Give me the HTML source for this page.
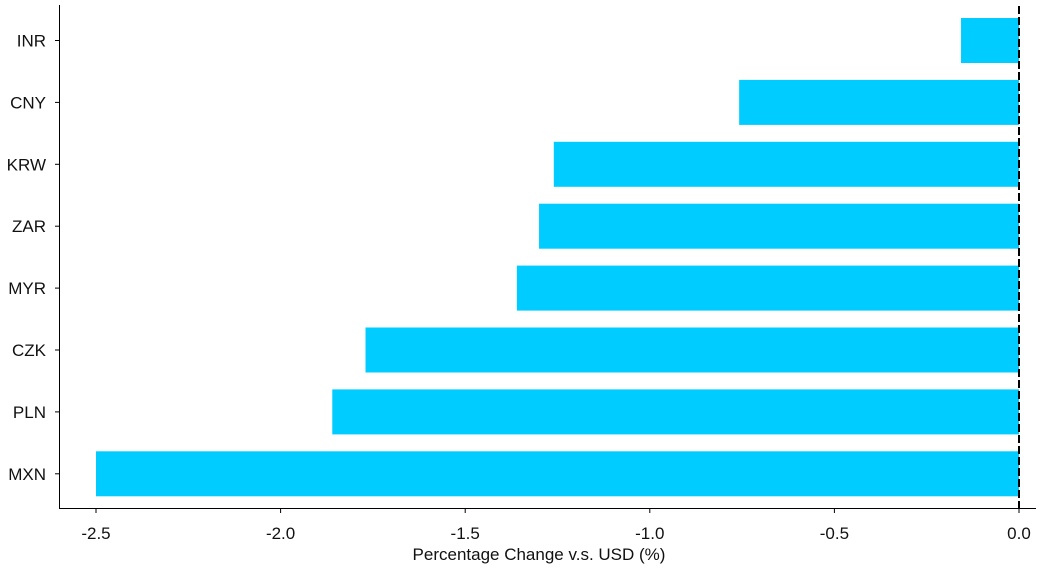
<!DOCTYPE html>
<html><head><meta charset="utf-8"><style>
body{margin:0;background:#fff;}
svg text{font-family:"Liberation Sans",sans-serif;fill:#111;}
</style></head><body>
<svg id="chart" width="1040" height="571" xmlns="http://www.w3.org/2000/svg"></svg>
<script>
const categories = ["INR","CNY","KRW","ZAR","MYR","CZK","PLN","MXN"];
const values = [-0.157,-0.758,-1.26,-1.30,-1.36,-1.77,-1.86,-2.50];
const tickValues = [-2.5,-2.0,-1.5,-1.0,-0.5,0.0];
const tickLabels = ["-2.5","-2.0","-1.5","-1.0","-0.5","0.0"];
const NS="http://www.w3.org/2000/svg";
const svg=document.getElementById('chart');
function x(v){return 1019+v*369.2;}
function yc(i){return 40.5+i*61.9;}
function mk(t,a,parent){const e=document.createElementNS(NS,t);for(const k in a)e.setAttribute(k,a[k]);(parent||svg).appendChild(e);return e;}
categories.forEach((c,i)=>{
  const v=values[i];
  const r=mk('rect',{x:Math.min(x(v),x(0)),y:yc(i)-22.5,width:Math.abs(x(v)-x(0)),height:45,fill:'#00ccff'});
  
  
  const t=mk('line',{x1:55,x2:59,y1:yc(i),y2:yc(i),stroke:'#000','stroke-width':1});
  
  
  const l=mk('text',{x:46,y:yc(i)+6,'text-anchor':'end','font-size':17});
  l.textContent=c;
  
  
});
tickValues.forEach((v,i)=>{
  const t=mk('line',{x1:x(v),x2:x(v),y1:508,y2:513,stroke:'#000','stroke-width':1});
  
  
  const l=mk('text',{x:x(v),y:539,'text-anchor':'middle','font-size':17});
  l.textContent=tickLabels[i];
  
  
});
const z=mk('line',{x1:x(0),x2:x(0),y1:6,y2:508,stroke:'#000','stroke-width':2,'stroke-dasharray':'8,3'});


const ls=mk('line',{x1:59.5,x2:59.5,y1:5,y2:508.5,stroke:'#000','stroke-width':1});


const bs=mk('line',{x1:59,x2:1036,y1:508.5,y2:508.5,stroke:'#000','stroke-width':1});


const tt=mk('text',{x:539,y:560,'text-anchor':'middle','font-size':17});
tt.textContent='Percentage Change v.s. USD (%)';


</script>
</body></html>
